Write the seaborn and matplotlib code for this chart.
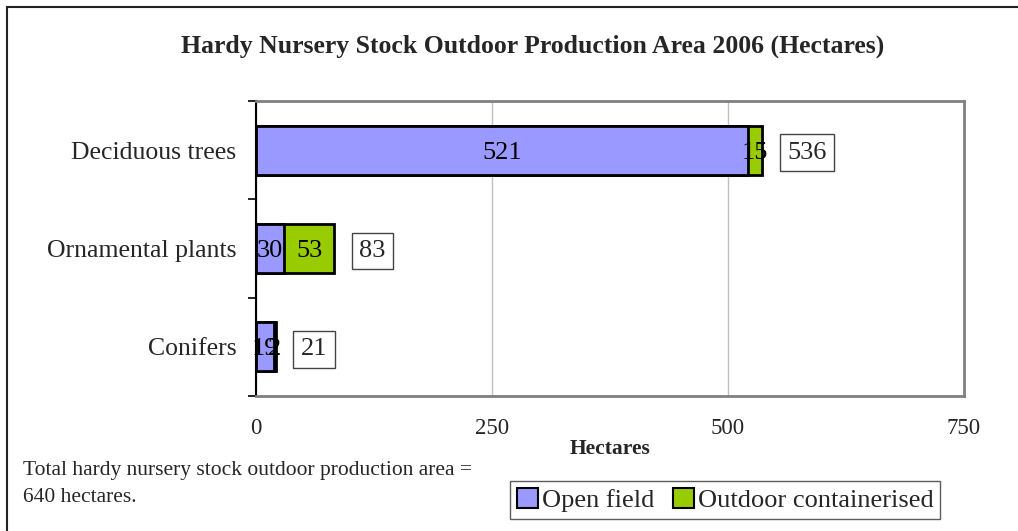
import matplotlib

matplotlib.use("Agg")
import matplotlib.pyplot as plt
import pandas as pd
import seaborn as sns
from matplotlib.patches import Patch, Rectangle

categories = ["Deciduous trees", "Ornamental plants", "Conifers"]
open_field = [521, 30, 19]
containerised = [15, 53, 2]
x_ticks = [0, 250, 500, 750]

OPEN_COLOR = "#9999FF"
CONT_COLOR = "#99CC00"

sns.set_theme(style="white")
plt.rcParams["font.family"] = ["Liberation Serif", "DejaVu Serif"]

frame = pd.DataFrame(
    {"category": categories, "open": open_field, "cont": containerised}
)
frame["total"] = frame["open"] + frame["cont"]

fig = plt.figure(figsize=(10.18, 5.31), dpi=100)
ax = fig.add_axes([256 / 1018, 135 / 531, 708 / 1018, 295 / 531])

# stacked bars: totals drawn first, open field drawn over them
sns.barplot(data=frame, x="total", y="category", color=CONT_COLOR, saturation=1,
            width=0.5, edgecolor="black", linewidth=2, ax=ax, orient="h")
sns.barplot(data=frame, x="open", y="category", color=OPEN_COLOR, saturation=1,
            width=0.5, edgecolor="black", linewidth=2, ax=ax, orient="h")

for i, row in frame.iterrows():
    ax.text(row["open"] / 2, i, f"{row['open']}", ha="center", va="center_baseline",
            fontsize=19, color="black")
    ax.text(row["open"] + row["cont"] / 2, i, f"{row['cont']}", ha="center",
            va="center_baseline", fontsize=19, color="black")
    ax.annotate(f"{row['total']}", xy=(row["total"], i), xytext=(18, 0),
                textcoords="offset points", ha="left", va="center_baseline", fontsize=19,
                bbox=dict(boxstyle="square,pad=0.28", fc="white", ec="#444444", lw=1))

ax.set_xlim(0, 750)
ax.set_ylim(2.5, -0.5)
ax.set_xticks(x_ticks)
ax.set_xticklabels([str(t) for t in x_ticks], fontsize=16.5)
ax.tick_params(axis="x", length=0, pad=16)
ax.set_yticks(range(len(categories)))
ax.set_yticklabels(categories, fontsize=18.5)
ax.tick_params(axis="y", which="major", length=0, pad=14)
ax.set_yticks([-0.5, 0.5, 1.5, 2.5], minor=True)
ax.tick_params(axis="y", which="minor", length=6, width=1.2, color="black", left=True)
ax.set_ylabel("")
ax.set_xlabel("Hectares", fontsize=15.5, fontweight="bold", labelpad=0)
ax.xaxis.grid(True, color="#C0C0C0", linewidth=1)
ax.set_axisbelow(True)

for side in ["top", "right", "bottom"]:
    ax.spines[side].set_color("#808080")
    ax.spines[side].set_linewidth(2)
ax.spines["left"].set_color("black")
ax.spines["left"].set_linewidth(1.5)

fig.text(533 / 1018, 1 - 46 / 531, "Hardy Nursery Stock Outdoor Production Area 2006 (Hectares)",
         ha="center", va="center", fontsize=18.5, fontweight="bold")
fig.text(23 / 1018, 1 - 470 / 531, "Total hardy nursery stock outdoor production area =",
         ha="left", va="center", fontsize=15.5)
fig.text(23 / 1018, 1 - 497 / 531, "640 hectares.", ha="left", va="center", fontsize=15.5)

handles = [
    Patch(facecolor=OPEN_COLOR, edgecolor="black", linewidth=1.5, label="Open field"),
    Patch(facecolor=CONT_COLOR, edgecolor="black", linewidth=1.5, label="Outdoor containerised"),
]
fig.legend(handles=handles, loc="center", bbox_to_anchor=(725 / 1018, 1 - 500 / 531),
           ncol=2, fontsize=19, frameon=True, fancybox=False, edgecolor="#333333",
           handlelength=0.8, handleheight=0.8, handletextpad=0.15, columnspacing=0.7,
           borderpad=0.25)

fig.add_artist(Rectangle((7 / 1018, -0.1), 1.2, 1.1 - 7 / 531, transform=fig.transFigure,
                         fill=False, edgecolor="#222222", linewidth=1.5, clip_on=False))

fig.savefig("out.png", dpi=100)
